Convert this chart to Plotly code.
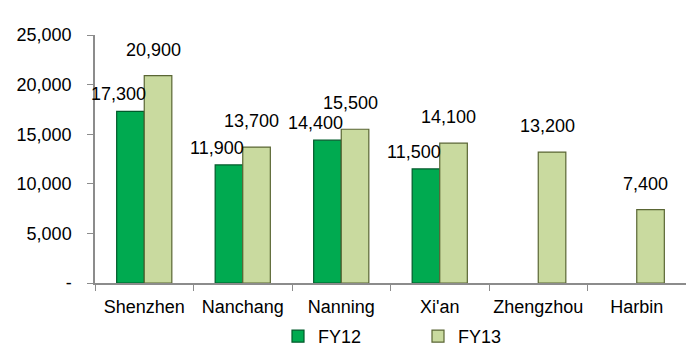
import plotly.graph_objects as go

cities = ["Shenzhen", "Nanchang", "Nanning", "Xi'an", "Zhengzhou", "Harbin"]
fy12 = [17300, 11900, 14400, 11500, None, None]
fy13 = [20900, 13700, 15500, 14100, 13200, 7400]
ytick_vals = [0, 5000, 10000, 15000, 20000, 25000]
ytick_text = ["-", "5,000", "10,000", "15,000", "20,000", "25,000"]

FONT = "Liberation Sans, Arial"

fig = go.Figure()
fig.add_trace(go.Bar(
    x=cities, y=fy12, name="FY12",
    marker=dict(color="#00AA50", line=dict(color="#005A2A", width=1.2)),
))
fig.add_trace(go.Bar(
    x=cities, y=fy13, name="FY13",
    marker=dict(color="#C9DA9F", line=dict(color="#5A6634", width=1.2)),
))

annotations = []
for series, xs, ys in ((fy12, -26, 5), (fy13, 9, 14)):
    for c, v in zip(cities, series):
        if v is None:
            continue
        annotations.append(dict(
            x=c, y=v, xref="x", yref="y", text=f"{v:,}", showarrow=False,
            xshift=xs, yshift=ys, yanchor="bottom",
            font=dict(family=FONT, size=18, color="#000"),
        ))

fig.update_layout(
    width=686, height=348,
    margin=dict(l=95, r=0, t=35, b=65, autoexpand=False),
    paper_bgcolor="white", plot_bgcolor="white",
    barmode="group", bargap=0.44, bargroupgap=0,
    font=dict(family=FONT, size=18, color="#000"),
    showlegend=True,
    legend=dict(orientation="h", xref="container", yref="paper",
                x=278 / 686, xanchor="left", y=-0.29, yanchor="bottom",
                font=dict(size=18), entrywidth=95, entrywidthmode="pixels",
                itemwidth=30, traceorder="normal", borderwidth=0,
                bgcolor="rgba(0,0,0,0)"),
    annotations=annotations,
)
fig.update_xaxes(
    range=[-0.5, len(cities) - 0.5],
    showline=True, linecolor="#8c8c8c", linewidth=1.5,
    ticks="outside", tickson="boundaries", tickcolor="#8c8c8c", ticklen=6,
    tickfont=dict(size=18), showgrid=False, ticklabelstandoff=7,
    tickangle=0, automargin=False,
)
fig.update_yaxes(
    range=[0, 25000], tickvals=ytick_vals, ticktext=ytick_text,
    showline=True, linecolor="#8c8c8c", linewidth=1.5,
    ticks="outside", tickcolor="#8c8c8c", ticklen=6,
    tickfont=dict(size=18), showgrid=False, zeroline=False,
    ticklabelstandoff=12, automargin=False,
)

fig.write_html("out.html")
